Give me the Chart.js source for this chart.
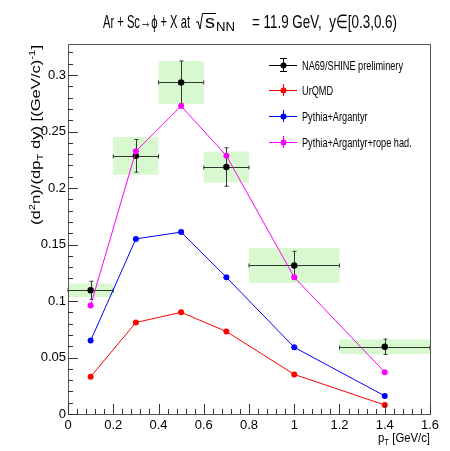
<!DOCTYPE html>
<html>
<head>
<meta charset="utf-8">
<script src="https://cdn.jsdelivr.net/npm/chart.js@4.4.1/dist/chart.umd.min.js"></script>
<style>
  html, body { margin: 0; padding: 0; background: #fff; }
  #wrap { width: 450px; height: 451px; }
</style>
</head>
<body>
<div id="wrap"><canvas id="chart" width="450" height="451"></canvas></div>
<script>
// bin centres and bin edges (pT, GeV/c)
const ptBins = [0.1, 0.3, 0.5, 0.7, 1.0, 1.4]
const binLow = [0, 0.2, 0.4, 0.6, 0.8, 1.2]
const binHigh = [0.2, 0.4, 0.6, 0.8, 1.2, 1.6]

// NA69/SHINE preliminary, stat and sys errors
const na69 = [0.1095, 0.2285, 0.2935, 0.2186, 0.1315, 0.0595]
const na69Stat = [0.008, 0.0145, 0.019, 0.017, 0.0125, 0.0068]
const na69Sys = [0.006, 0.0167, 0.019, 0.0137, 0.0155, 0.0065]

// model curves
const urqmd = [0.033, 0.081, 0.090, 0.073, 0.035, 0.008]
const pythia = [0.065, 0.155, 0.161, 0.121, 0.059, 0.016]
const ropeHad = [0.096, 0.2325, 0.2726, 0.2286, 0.121, 0.037]

const seriesNames = ["NA69/SHINE preliminery", "UrQMD", "Pythia+Argantyr", "Pythia+Argantyr+rope had."]
const seriesColors = ["#000000", "#ff0000", "#0000ff", "#ff00ff"]

const xTickLabels = ["0", "0.2", "0.4", "0.6", "0.8", "1", "1.2", "1.4", "1.6"]
const yTickLabels = ["0", "0.05", "0.1", "0.15", "0.2", "0.25", "0.3"]

const FONT = "'Liberation Sans', Arial, sans-serif"

function pts(ys) {
  return ptBins.map((x, i) => ({ x: x, y: ys[i] }))
}

function textW(ctx, txt, size) {
  ctx.font = size + "px " + FONT
  return ctx.measureText(txt).width
}

// draw text with horizontal squeeze (ROOT fonts look narrow here)
function squeezed(ctx, txt, x, y, size, sx) {
  ctx.save()
  ctx.translate(x, y)
  ctx.scale(sx, 1)
  ctx.font = size + "px " + FONT
  ctx.fillText(txt, 0, 0)
  const w = ctx.measureText(txt).width * sx
  ctx.restore()
  return w
}

// text squeezed to fit a given width
function fitted(ctx, txt, x, y, size, width) {
  return squeezed(ctx, txt, x, y, size, width / textW(ctx, txt, size))
}

// sequence of [text, size, dy] drawn left to right
function runs(ctx, parts, x, y, sx) {
  let cx = x
  parts.forEach((p) => {
    cx += squeezed(ctx, p[0], cx, y + (p[2] || 0), p[1], sx)
  })
  return cx - x
}

function runsWidth(ctx, parts) {
  let w = 0
  parts.forEach((p) => { w += textW(ctx, p[0], p[1]) })
  return w
}

const rootLook = {
  id: "rootLook",
  beforeDatasetsDraw(chart) {
    const { ctx, scales } = chart
    const xs = scales.x, ys = scales.y
    // systematic boxes
    ctx.save()
    ctx.fillStyle = "#d8f8cf"
    ptBins.forEach((x, i) => {
      const l = xs.getPixelForValue(binLow[i])
      const r = xs.getPixelForValue(binHigh[i])
      const t = ys.getPixelForValue(na69[i] + na69Sys[i])
      const b = ys.getPixelForValue(na69[i] - na69Sys[i])
      ctx.fillRect(l, t, r - l, b - t)
    })
    // stat error bars
    ctx.strokeStyle = "#2f3a2f"
    ctx.lineWidth = 1
    ptBins.forEach((x, i) => {
      const px = Math.round(xs.getPixelForValue(x)) + 0.5
      const py = Math.round(ys.getPixelForValue(na69[i])) + 0.5
      const l = xs.getPixelForValue(binLow[i])
      const r = xs.getPixelForValue(binHigh[i])
      const t = ys.getPixelForValue(na69[i] + na69Stat[i])
      const b = ys.getPixelForValue(na69[i] - na69Stat[i])
      ctx.beginPath()
      ctx.moveTo(l, py); ctx.lineTo(r, py)
      ctx.moveTo(px, t); ctx.lineTo(px, b)
      // end caps
      ctx.moveTo(l, py - 2); ctx.lineTo(l, py + 2)
      ctx.moveTo(r, py - 2); ctx.lineTo(r, py + 2)
      ctx.moveTo(px - 2, t); ctx.lineTo(px + 2, t)
      ctx.moveTo(px - 2, b); ctx.lineTo(px + 2, b)
      ctx.stroke()
    })
    ctx.restore()
  },
  afterDraw(chart) {
    const { ctx, chartArea, scales } = chart
    const xs = scales.x, ys = scales.y
    ctx.save()
    // frame
    ctx.strokeStyle = "#555"
    ctx.lineWidth = 1
    ctx.strokeRect(Math.round(chartArea.left) + 0.5, Math.round(chartArea.top) + 0.5,
      Math.round(chartArea.right - chartArea.left), Math.round(chartArea.bottom - chartArea.top))

    // inward ticks
    ctx.strokeStyle = "#333"
    ctx.beginPath()
    for (let k = 0; k <= 40; k++) {
      const v = k * 0.04
      const px = Math.round(xs.getPixelForValue(v)) + 0.5
      const len = k % 5 === 0 ? 10 : 5
      ctx.moveTo(px, chartArea.bottom); ctx.lineTo(px, chartArea.bottom - len)
    }
    for (let k = 0; k <= 32; k++) {
      const v = k * 0.01
      const py = Math.round(ys.getPixelForValue(v)) + 0.5
      const len = k % 5 === 0 ? 10 : 5
      ctx.moveTo(chartArea.left, py); ctx.lineTo(chartArea.left + len, py)
    }
    ctx.stroke()

    ctx.fillStyle = "#000"
    ctx.textBaseline = "alphabetic"
    ctx.textAlign = "left"

    // title, pieces placed to the reference widths
    fitted(ctx, "Ar + Sc\u2192\u03D5 + X at", 103, 28, 19, 87)
    fitted(ctx, "s", 205, 28, 19, 10)
    fitted(ctx, "NN", 216, 31, 12, 19)
    fitted(ctx, "= 11.9 GeV,  y\u2208[0.3,0.6)", 252, 28, 19, 145)
    // sqrt sign over s_NN
    ctx.strokeStyle = "#000"
    ctx.lineWidth = 1
    ctx.beginPath()
    ctx.moveTo(196, 22.5); ctx.lineTo(198, 21.5)
    ctx.lineTo(200, 29); ctx.lineTo(202.5, 13.5); ctx.lineTo(216, 13.5)
    ctx.stroke()

    // y axis title, rotated, right-aligned to top
    const yt = [
      ["(d", 12.5, 0], ["2", 8.5, -5], ["n)/(dp", 12.5, 0], ["T", 8.5, 3],
      [" dy) [(GeV/c)", 12.5, 0], ["-1", 8.5, -5], ["]", 12.5, 0]
    ]
    const sxY = 180 / runsWidth(ctx, yt)
    ctx.save()
    ctx.translate(40, 225)
    ctx.rotate(-Math.PI / 2)
    runs(ctx, yt, 0, 0, sxY)
    ctx.restore()

    // x axis title, right-aligned
    const xt = [["p", 13, 0], ["T", 9, 3], [" [GeV/c]", 13, 0]]
    const sxX = 52 / runsWidth(ctx, xt)
    runs(ctx, xt, 378, 442, sxX)

    // legend
    const legY = [65, 90, 116, 142]
    const sxL = 101 / textW(ctx, seriesNames[0], 12.5)
    seriesNames.forEach((name, i) => {
      const c = seriesColors[i]
      ctx.strokeStyle = c
      ctx.fillStyle = c
      ctx.lineWidth = 1
      ctx.beginPath()
      ctx.moveTo(269, legY[i] + 0.5); ctx.lineTo(297, legY[i] + 0.5)
      ctx.moveTo(283.5, legY[i] - 6); ctx.lineTo(283.5, legY[i] + 6)
      if (i === 0) {
        ctx.moveTo(280, legY[i] - 6.5); ctx.lineTo(287, legY[i] - 6.5)
        ctx.moveTo(280, legY[i] + 6.5); ctx.lineTo(287, legY[i] + 6.5)
      }
      ctx.stroke()
      ctx.beginPath()
      ctx.arc(283.5, legY[i] + 0.5, 3, 0, Math.PI * 2)
      ctx.fill()
      ctx.fillStyle = "#000"
      squeezed(ctx, name, 302, legY[i] + 4.5, 12.5, sxL)
    })
    ctx.restore()
  }
}

const ctx = document.getElementById("chart").getContext("2d")

function modelSet(i, ys) {
  return {
    label: seriesNames[i],
    data: pts(ys),
    borderColor: seriesColors[i],
    backgroundColor: seriesColors[i],
    borderWidth: 1,
    pointRadius: 3,
    pointBorderWidth: 0,
  }
}

const chart = new Chart(ctx, {
  type: "line",
  data: {
    datasets: [
      modelSet(1, urqmd),
      modelSet(2, pythia),
      modelSet(3, ropeHad),
      {
        label: seriesNames[0],
        data: pts(na69),
        borderColor: seriesColors[0],
        backgroundColor: seriesColors[0],
        showLine: false,
        pointRadius: 3.2,
        pointBorderWidth: 0,
      },
    ],
  },
  options: {
    responsive: false,
    animation: false,
    layout: { padding: { top: 44, right: 20, left: 0, bottom: 0 } },
    plugins: {
      legend: { display: false },
      tooltip: { enabled: false },
    },
    scales: {
      x: {
        type: "linear",
        min: 0,
        max: 1.6,
        afterFit: (s) => { s.height = 37 },
        afterBuildTicks: (s) => {
          s.ticks = xTickLabels.map((t) => ({ value: parseFloat(t) }))
        },
        grid: { display: false, drawTicks: false },
        border: { display: false },
        ticks: {
          padding: 4,
          maxRotation: 0,
          autoSkip: false,
          color: "#000",
          font: { family: FONT, size: 13 },
          callback: (v) => xTickLabels.find((t) => Math.abs(parseFloat(t) - v) < 1e-6) || "",
        },
      },
      y: {
        type: "linear",
        min: 0,
        max: 0.3275,
        afterFit: (s) => { s.width = 68 },
        afterBuildTicks: (s) => {
          s.ticks = yTickLabels.map((t) => ({ value: parseFloat(t) }))
        },
        grid: { display: false, drawTicks: false },
        border: { display: false },
        ticks: {
          padding: 2,
          autoSkip: false,
          color: "#000",
          font: { family: FONT, size: 13 },
          callback: (v) => yTickLabels.find((t) => Math.abs(parseFloat(t) - v) < 1e-6) || "",
        },
      },
    },
  },
  plugins: [rootLook],
})
</script>
</body>
</html>
